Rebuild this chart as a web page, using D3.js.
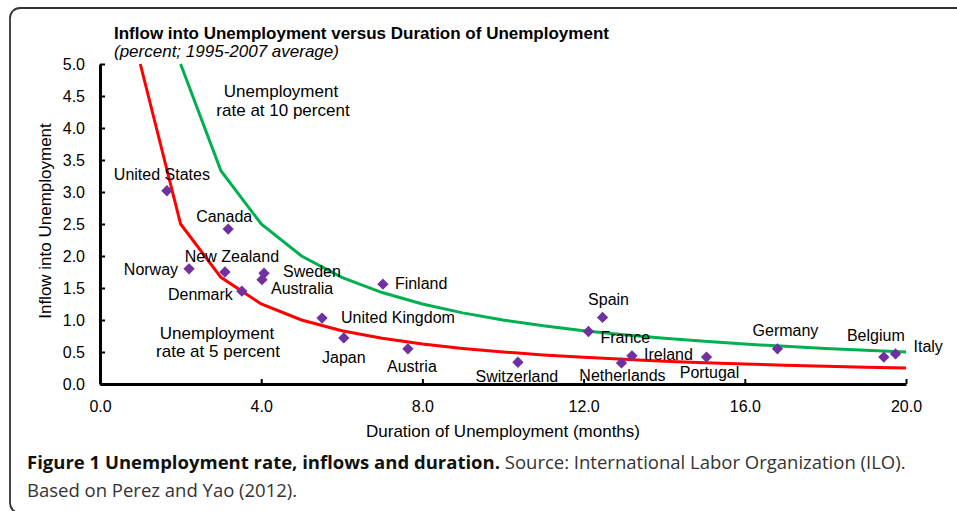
<!DOCTYPE html>
<html>
<head>
<meta charset="utf-8">
<script src="https://cdn.jsdelivr.net/npm/d3@7"></script>
<style>
  html, body { margin: 0; padding: 0; background: #fff; }
  svg { display: block; }
</style>
</head>
<body>
<svg id="chart" width="957" height="511"></svg>
<script>
// ---------- data ----------
const countries = ["United States","Canada","New Zealand","Norway","Sweden","Australia","Denmark","Finland","United Kingdom","Japan","Austria","Switzerland","Spain","France","Netherlands","Ireland","Portugal","Germany","Belgium","Italy"];
const duration  = [1.66, 3.18, 3.10, 2.21, 4.07, 4.02, 3.52, 7.02, 5.51, 6.05, 7.64, 10.37, 12.47, 12.12, 12.94, 13.20, 15.05, 16.81, 19.45, 19.74];
const inflow    = [3.02, 2.42, 1.75, 1.80, 1.73, 1.63, 1.45, 1.56, 1.03, 0.72, 0.55, 0.34, 1.04, 0.82, 0.33, 0.44, 0.42, 0.55, 0.42, 0.47];

// iso-unemployment curves (inflow at each duration)
const rate5Duration  = [1,2,3,4,5,6,7,8,9,10,11,12,13,14,15,16,17,18,19,20];
const rate5Inflow    = [5.0,2.5,1.667,1.25,1.0,0.833,0.714,0.625,0.556,0.5,0.455,0.417,0.385,0.357,0.333,0.313,0.294,0.278,0.263,0.25];
const rate10Duration = [2,3,4,5,6,7,8,9,10,11,12,13,14,15,16,17,18,19,20];
const rate10Inflow   = [5.0,3.333,2.5,2.0,1.667,1.429,1.25,1.111,1.0,0.909,0.833,0.769,0.714,0.667,0.625,0.588,0.556,0.526,0.5];

const xTicks = [0,4,8,12,16,20];
const yTicks = [0,0.5,1,1.5,2,2.5,3,3.5,4,4.5,5];

// label placement (pixel offsets from marker, anchor)
const labelLayout = {
  "United States":[-5,-11,"middle"], "Canada":[-4,-7,"middle"], "New Zealand":[7,-10,"middle"],
  "Norway":[-11,6,"end"], "Sweden":[19,4,"start"], "Australia":[9,14,"start"], "Denmark":[-9,9,"end"],
  "Finland":[12,5,"start"], "United Kingdom":[19,5,"start"], "Japan":[0,25,"middle"],
  "Austria":[4,23,"middle"], "Switzerland":[-1,20,"middle"], "Spain":[6,-12,"middle"],
  "France":[12,11,"start"], "Netherlands":[1,18,"middle"], "Ireland":[12,4,"start"],
  "Portugal":[3,21,"middle"], "Germany":[8,-13,"middle"], "Belgium":[-8,-16,"middle"], "Italy":[18,-2,"start"]
};

// ---------- drawing ----------
const svg = d3.select("#chart");
const FONT = "'Liberation Sans', Arial, Helvetica, sans-serif";

// frame
svg.append("rect").attr("x",10).attr("y",8).attr("width",1000).attr("height",505)
  .attr("rx",10).attr("fill","none").attr("stroke","#333").attr("stroke-width",1.8);

const x = d3.scaleLinear().domain([0,20]).range([100,906]);
const y = d3.scaleLinear().domain([0,5]).range([384,64]);

// title
svg.append("text").attr("x",114).attr("y",39).attr("font-family",FONT)
  .attr("font-size",17).attr("font-weight","bold").attr("fill","#000")
  .text("Inflow into Unemployment versus Duration of Unemployment");
svg.append("text").attr("x",114).attr("y",57).attr("font-family",FONT)
  .attr("font-size",17).attr("font-style","italic").attr("fill","#000")
  .text("(percent; 1995-2007 average)");

// axes
const yAxis = d3.axisLeft(y).tickValues(yTicks).tickFormat(d3.format(".1f"))
  .tickSizeInner(-5).tickSizeOuter(0).tickPadding(15);
const xAxis = d3.axisBottom(x).tickValues(xTicks).tickFormat(d3.format(".1f"))
  .tickSizeInner(-5).tickSizeOuter(0).tickPadding(17);

const gy = svg.append("g").attr("transform","translate(100,0)").call(yAxis);
const gx = svg.append("g").attr("transform","translate(0,384)").call(xAxis);
[gx, gy].forEach(g => {
  g.select(".domain").attr("stroke","#000").attr("stroke-width",3);
  g.selectAll(".tick line").attr("stroke","#000").attr("stroke-width",2);
  g.selectAll(".tick text").attr("font-family",FONT).attr("font-size",16).attr("fill","#000");
});

// axis titles
svg.append("text").attr("transform","translate(51,221) rotate(-90)")
  .attr("text-anchor","middle").attr("font-family",FONT).attr("font-size",17).attr("fill","#000")
  .text("Inflow into Unemployment");
svg.append("text").attr("x",503).attr("y",437).attr("text-anchor","middle")
  .attr("font-family",FONT).attr("font-size",17).attr("fill","#000")
  .text("Duration of Unemployment (months)");

// curves
const line = d3.line().x(d => x(d[0])).y(d => y(d[1]));
svg.append("path").datum(rate10Duration.map((d,i)=>[d, rate10Inflow[i]]))
  .attr("d",line).attr("fill","none").attr("stroke","#00B050").attr("stroke-width",3);
svg.append("path").datum(rate5Duration.map((d,i)=>[d, rate5Inflow[i]]))
  .attr("d",line).attr("fill","none").attr("stroke","#FF0000").attr("stroke-width",3);

// curve annotations
const ann = [["Unemployment",281,97],["rate at 10 percent",283,116],["Unemployment",217,339],["rate at 5 percent",218,357]];
svg.selectAll("text.ann").data(ann).enter().append("text").attr("class","ann")
  .attr("x",d=>d[1]).attr("y",d=>d[2]).attr("text-anchor","middle")
  .attr("font-family",FONT).attr("font-size",17).attr("fill","#000").text(d=>d[0]);

// markers
const pts = countries.map((c,i)=>({name:c, dx:duration[i], inf:inflow[i]}));
svg.selectAll("path.pt").data(pts).enter().append("path").attr("class","pt")
  .attr("d", d3.symbol().type(d3.symbolSquare).size(64))
  .attr("transform", d => `translate(${x(d.dx)},${y(d.inf)}) rotate(45)`)
  .attr("fill","#7030A0");

// labels
svg.selectAll("text.lbl").data(pts).enter().append("text").attr("class","lbl")
  .attr("x", d => x(d.dx) + labelLayout[d.name][0])
  .attr("y", d => y(d.inf) + labelLayout[d.name][1])
  .attr("text-anchor", d => labelLayout[d.name][2])
  .attr("font-family",FONT).attr("font-size",16).attr("fill","#000")
  .text(d => d.name);

// caption
const CAPFONT = "'Open Sans', sans-serif";
const cap = svg.append("text").attr("x",27).attr("y",469)
  .attr("font-family",CAPFONT).attr("font-size",18.5);
cap.append("tspan").attr("font-weight","bold").attr("fill","#111")
  .text("Figure 1 Unemployment rate, inflows and duration.");
cap.append("tspan").attr("fill","#333").text(" Source: International Labor Organization (ILO).");
svg.append("text").attr("x",27).attr("y",497)
  .attr("font-family",CAPFONT).attr("font-size",18.5).attr("fill","#333")
  .text("Based on Perez and Yao (2012).");
</script>
</body>
</html>
